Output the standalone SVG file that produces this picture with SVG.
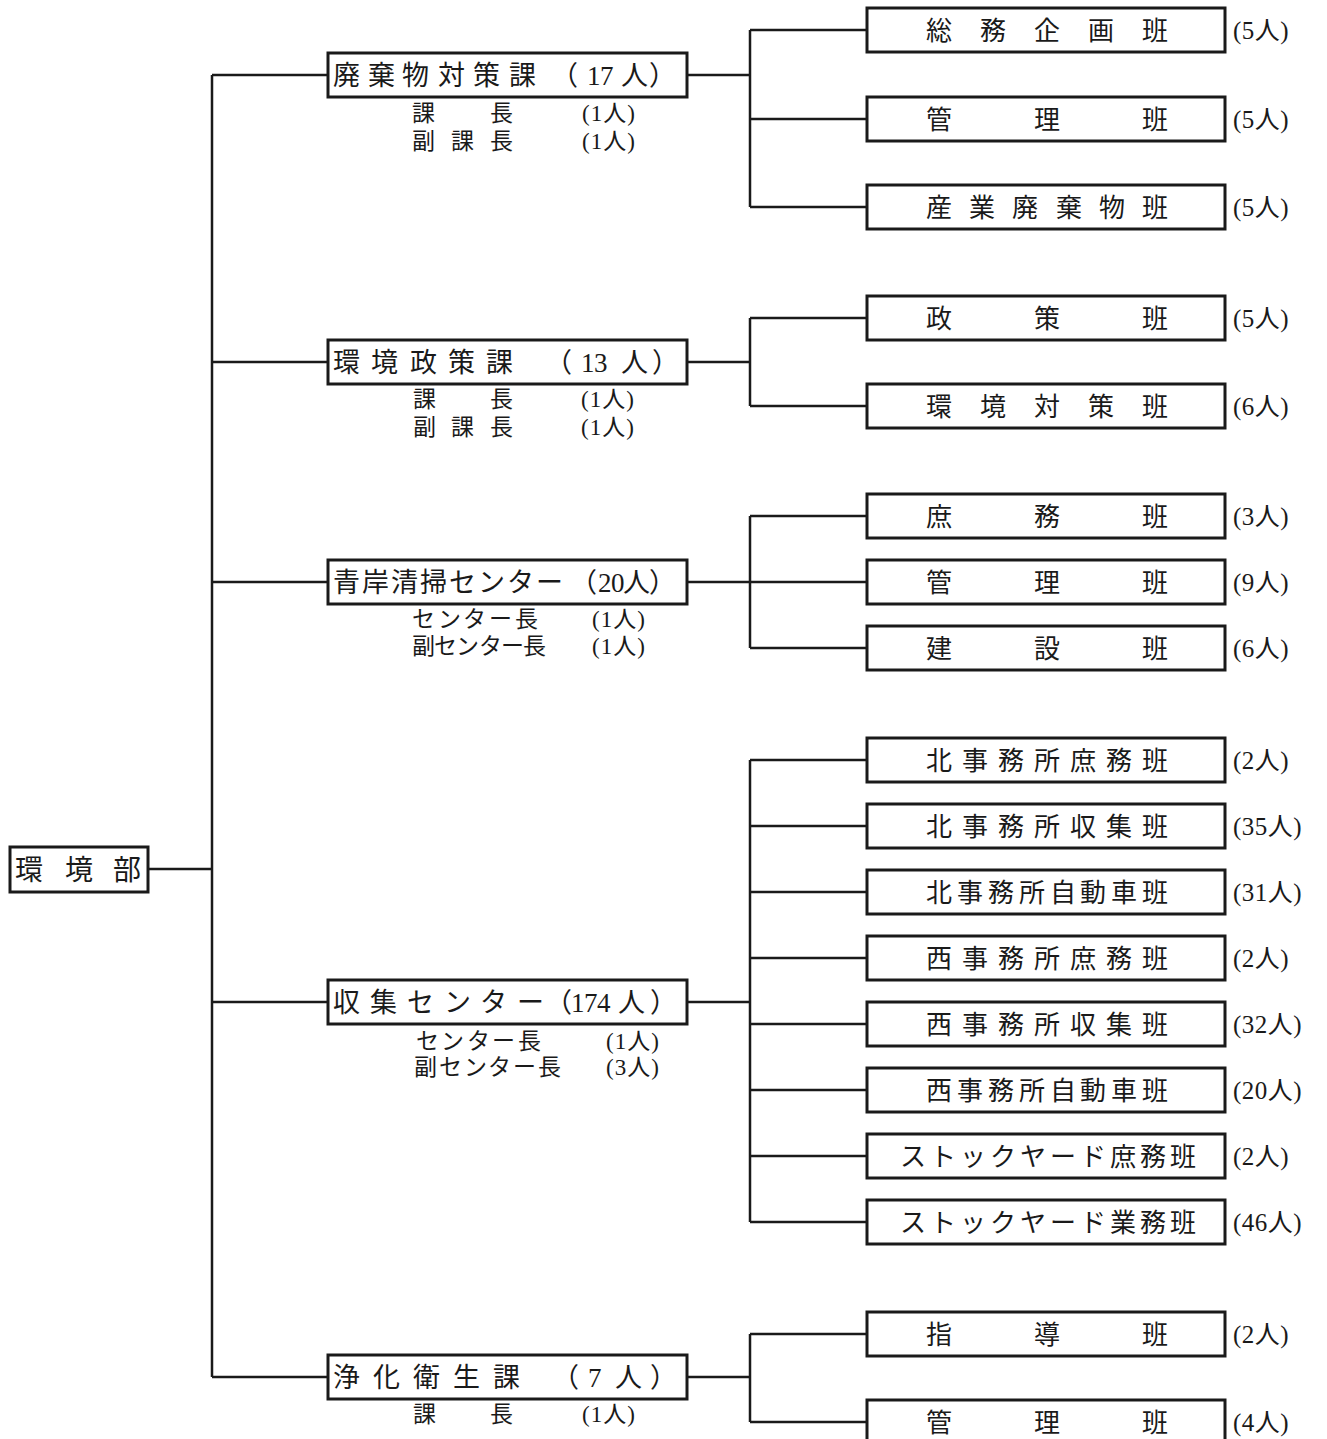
<svg xmlns="http://www.w3.org/2000/svg" width="1327" height="1439" viewBox="0 0 1327 1439">
<style>
text{font-family:'Liberation Serif','Noto Sans CJK JP',serif;fill:#1a1a1a}
.box{fill:#fff;stroke:#1a1a1a;stroke-width:3}
.ln{fill:none;stroke:#1a1a1a;stroke-width:2.5}
.d{font-size:27px}
.s{font-size:26px}
.c{font-size:25px;letter-spacing:0.5px}
.t{font-size:23px}
.tc{font-size:23px;letter-spacing:1px}
</style>
<rect width="1327" height="1439" fill="#fff"/>
<g id="connectors">
<path class="ln" d="M148 869H212M212 75V1377M212 75H328M212 362H328M212 582H328M212 1002H328M212 1377H328"/>
<path class="ln" d="M687 75H750M750 30V207M750 30H867M750 119H867M750 207H867"/>
<path class="ln" d="M687 362H750M750 318V406M750 318H867M750 406H867"/>
<path class="ln" d="M687 582H750M750 516V648M750 516H867M750 582H867M750 648H867"/>
<path class="ln" d="M687 1002H750M750 760V1222M750 760H867M750 826H867M750 892H867M750 958H867M750 1024H867M750 1090H867M750 1156H867M750 1222H867"/>
<path class="ln" d="M687 1377H750M750 1334V1422M750 1334H867M750 1422H867"/>
</g>
<g id="root">
<rect class="box" x="10" y="847" width="138" height="45"/>
<text style="font-size:28px" x="15 65 113" y="879.5">環境部</text>
</g>
<g id="dept1">
<rect class="box" x="328" y="53" width="359" height="44"/>
<text class="d" x="333 368 402 438 473 509 551 587 600 621 649" y="85">廃棄物対策課（17人）</text>
<text class="t" x="412 490" y="120.5">課長</text><text class="tc" x="582" y="120.5">(1人)</text>
<text class="t" x="412 451 490" y="148.5">副課長</text><text class="tc" x="582" y="148.5">(1人)</text>
</g>
<g id="dept2">
<rect class="box" x="328" y="340" width="359" height="44"/>
<text class="d" x="333 371 410 448 486 545 581 594 621 652" y="372">環境政策課（13人）</text>
<text class="t" x="413 490" y="406.5">課長</text><text class="tc" x="581" y="406.5">(1人)</text>
<text class="t" x="413 451 490" y="434.5">副課長</text><text class="tc" x="581" y="434.5">(1人)</text>
</g>
<g id="dept3">
<rect class="box" x="328" y="560" width="359" height="44"/>
<text class="d" x="333 362 391 420 449 478 507 536 570 598 611 623 649" y="592">青岸清掃センター（20人）</text>
<text class="t" x="412 438 463 489 515" y="626.5">センター長</text><text class="tc" x="592" y="626.5">(1人)</text>
<text class="t" x="412 434 456 479 501 523" y="653.5">副センター長</text><text class="tc" x="592" y="653.5">(1人)</text>
</g>
<g id="dept4">
<rect class="box" x="328" y="980" width="359" height="44"/>
<text class="d" x="333 370 407 444 480 517 545 571 584 597 618 650" y="1012">収集センター（174人）</text>
<text class="t" x="416 441 467 492 518" y="1048.5">センター長</text><text class="tc" x="606" y="1048.5">(1人)</text>
<text class="t" x="414 439 464 488 513 538" y="1074.5">副センター長</text><text class="tc" x="606" y="1074.5">(3人)</text>
</g>
<g id="dept5">
<rect class="box" x="328" y="1355" width="359" height="44"/>
<text class="d" x="333 373 413 453 493 552 588 615 650" y="1387">浄化衛生課（7人）</text>
<text class="t" x="413 490" y="1421.5">課長</text><text class="tc" x="582" y="1421.5">(1人)</text>
</g>
<g id="sec-soumu">
<rect class="box" x="867" y="8" width="358" height="44"/>
<text class="s" x="926 980 1034 1088 1142" y="39.5">総務企画班</text><text class="c" x="1233" y="39">(5人)</text>
</g>
<g id="sec-kanri1">
<rect class="box" x="867" y="97" width="358" height="44"/>
<text class="s" x="926 1034 1142" y="128.5">管理班</text><text class="c" x="1233" y="128">(5人)</text>
</g>
<g id="sec-sangyo">
<rect class="box" x="867" y="185" width="358" height="44"/>
<text class="s" x="926 969 1012 1056 1099 1142" y="216.5">産業廃棄物班</text><text class="c" x="1233" y="216">(5人)</text>
</g>
<g id="sec-seisaku">
<rect class="box" x="867" y="296" width="358" height="44"/>
<text class="s" x="926 1034 1142" y="327.5">政策班</text><text class="c" x="1233" y="327">(5人)</text>
</g>
<g id="sec-kankyo">
<rect class="box" x="867" y="384" width="358" height="44"/>
<text class="s" x="926 980 1034 1088 1142" y="415.5">環境対策班</text><text class="c" x="1233" y="415">(6人)</text>
</g>
<g id="sec-shomu1">
<rect class="box" x="867" y="494" width="358" height="44"/>
<text class="s" x="926 1034 1142" y="525.5">庶務班</text><text class="c" x="1233" y="525">(3人)</text>
</g>
<g id="sec-kanri2">
<rect class="box" x="867" y="560" width="358" height="44"/>
<text class="s" x="926 1034 1142" y="591.5">管理班</text><text class="c" x="1233" y="591">(9人)</text>
</g>
<g id="sec-kensetsu">
<rect class="box" x="867" y="626" width="358" height="44"/>
<text class="s" x="926 1034 1142" y="657.5">建設班</text><text class="c" x="1233" y="657">(6人)</text>
</g>
<g id="sec-kita-shomu">
<rect class="box" x="867" y="738" width="358" height="44"/>
<text class="s" x="926 962 998 1034 1070 1106 1142" y="769.5">北事務所庶務班</text><text class="c" x="1233" y="769">(2人)</text>
</g>
<g id="sec-kita-shushu">
<rect class="box" x="867" y="804" width="358" height="44"/>
<text class="s" x="926 962 998 1034 1070 1106 1142" y="835.5">北事務所収集班</text><text class="c" x="1233" y="835">(35人)</text>
</g>
<g id="sec-kita-jidosha">
<rect class="box" x="867" y="870" width="358" height="44"/>
<text class="s" x="926 957 988 1019 1050 1080 1111 1142" y="901.5">北事務所自動車班</text><text class="c" x="1233" y="901">(31人)</text>
</g>
<g id="sec-nishi-shomu">
<rect class="box" x="867" y="936" width="358" height="44"/>
<text class="s" x="926 962 998 1034 1070 1106 1142" y="967.5">西事務所庶務班</text><text class="c" x="1233" y="967">(2人)</text>
</g>
<g id="sec-nishi-shushu">
<rect class="box" x="867" y="1002" width="358" height="44"/>
<text class="s" x="926 962 998 1034 1070 1106 1142" y="1033.5">西事務所収集班</text><text class="c" x="1233" y="1033">(32人)</text>
</g>
<g id="sec-nishi-jidosha">
<rect class="box" x="867" y="1068" width="358" height="44"/>
<text class="s" x="926 957 988 1019 1050 1080 1111 1142" y="1099.5">西事務所自動車班</text><text class="c" x="1233" y="1099">(20人)</text>
</g>
<g id="sec-stock-shomu">
<rect class="box" x="867" y="1134" width="358" height="44"/>
<text class="s" x="900 930 960 990 1020 1050 1080 1110 1140 1170" y="1165.5">ストックヤード庶務班</text><text class="c" x="1233" y="1165">(2人)</text>
</g>
<g id="sec-stock-gyomu">
<rect class="box" x="867" y="1200" width="358" height="44"/>
<text class="s" x="900 930 960 990 1020 1050 1080 1110 1140 1170" y="1231.5">ストックヤード業務班</text><text class="c" x="1233" y="1231">(46人)</text>
</g>
<g id="sec-shido">
<rect class="box" x="867" y="1312" width="358" height="44"/>
<text class="s" x="926 1034 1142" y="1343.5">指導班</text><text class="c" x="1233" y="1343">(2人)</text>
</g>
<g id="sec-kanri3">
<rect class="box" x="867" y="1400" width="358" height="44"/>
<text class="s" x="926 1034 1142" y="1431.5">管理班</text><text class="c" x="1233" y="1431">(4人)</text>
</g>
</svg>
